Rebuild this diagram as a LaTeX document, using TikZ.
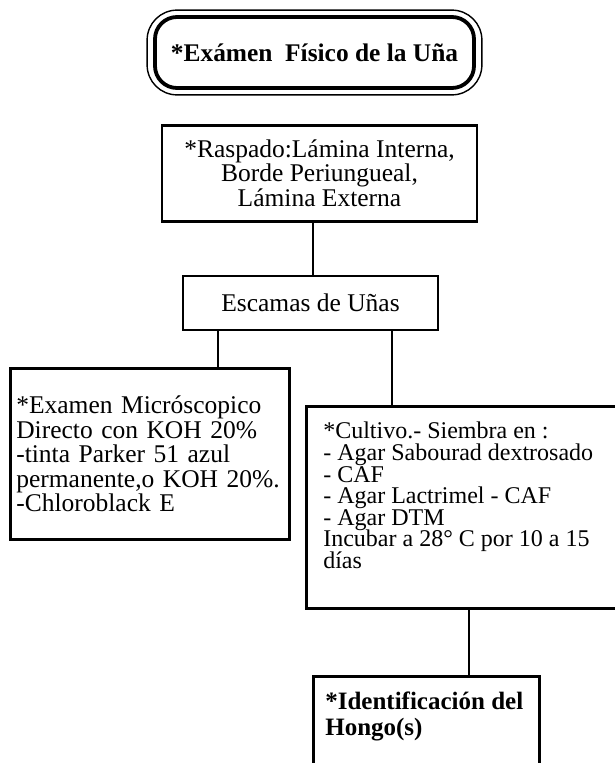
\documentclass[tikz,border=0pt]{standalone}
\usepackage{fontspec}
\setmainfont{Liberation Serif}
\usetikzlibrary{positioning, fit, calc}
\newcommand{\tightlines}{\lineskiplimit=-100pt\relax}
% text held at the top of a box of fixed height
\newcommand{\topbox}[3]{\parbox[c][#1][t]{#2}{\raggedright\tightlines #3}}

\begin{document}
\begin{tikzpicture}[
    box/.style={draw, rectangle, line width=2.6pt,
                font=\fontsize{25.5}{24.5}\selectfont\tightlines},
    head/.style={box, rounded corners=22pt, line width=3.8pt,
                 minimum width=319pt, minimum height=71pt,
                 font=\fontsize{25.4}{26}\selectfont\bfseries},
    marco/.style={draw, line width=1.4pt, rounded corners=30pt,
                  inner xsep=6pt, inner ysep=5pt},
    link/.style={line width=2.4pt}
]
\useasboundingbox (0,0) rectangle (615pt,-763pt);
\clip (0,0) rectangle (615pt,-763pt);
% Top — title
\node[head] (titulo) at (314.5pt,-52.5pt) {*Exámen\ \ Físico de la Uña};
\node[marco, fit=(titulo)] (titulo_m) {};
% Scraping and scales
\node[box, align=center, minimum width=315pt, minimum height=96pt,
      below=34pt of titulo, xshift=5pt] (raspado)
      {*Raspado:Lámina Interna,\\ Borde Periungueal,\\ Lámina Externa};
\node[box, minimum width=255pt, minimum height=54pt,
      below=52pt of raspado, xshift=-9pt] (escamas) {Escamas de Uñas};
% Left — direct exam
\node[box, anchor=north west, text width=267pt, inner xsep=6pt,
      minimum height=171pt, align=left] (micro) at (9pt,-367pt)
      {*Examen Micróscopico\\ Directo con KOH 20\%\\ -tinta Parker 51 azul\\
       permanente,o KOH 20\%.\\ -Chloroblack E};
% Right — culture
\node[box, anchor=north west, inner xsep=17pt, inner ysep=16pt,
      font=\fontsize{24}{21.6}\selectfont] (cultivo) at (305pt,-405pt)
      {\topbox{170pt}{300pt}{*Cultivo.- Siembra en :\\ - Agar Sabourad dextrosado\\
       - CAF\\ - Agar Lactrimel - CAF\\ - Agar DTM\\ Incubar a 28° C por 10 a 15\\ días}};
\node[box, anchor=north west, inner xsep=12pt, inner ysep=0pt,
      font=\fontsize{25}{26}\selectfont\bfseries] (ident) at (312pt,-675pt)
      {\topbox{150pt}{202pt}{\vspace*{16pt}*Identificación del\\ Hongo(s)}};
% Connectors
\coordinate (r_s) at ($(raspado.south)+(-6.5pt,0)$);
\draw[link] (r_s) -- (r_s |- escamas.north);
\coordinate (m_n) at ($(micro.north west)+(209pt,0)$);
\draw[link] (m_n |- escamas.south) -- (m_n);
\coordinate (c_n) at ($(cultivo.north west)+(87pt,0)$);
\draw[link] (c_n |- escamas.south) -- (c_n);
\coordinate (i_n) at ($(ident.north west)+(157pt,0)$);
\draw[link] (i_n |- cultivo.south) -- (i_n);
\end{tikzpicture}
\end{document}
